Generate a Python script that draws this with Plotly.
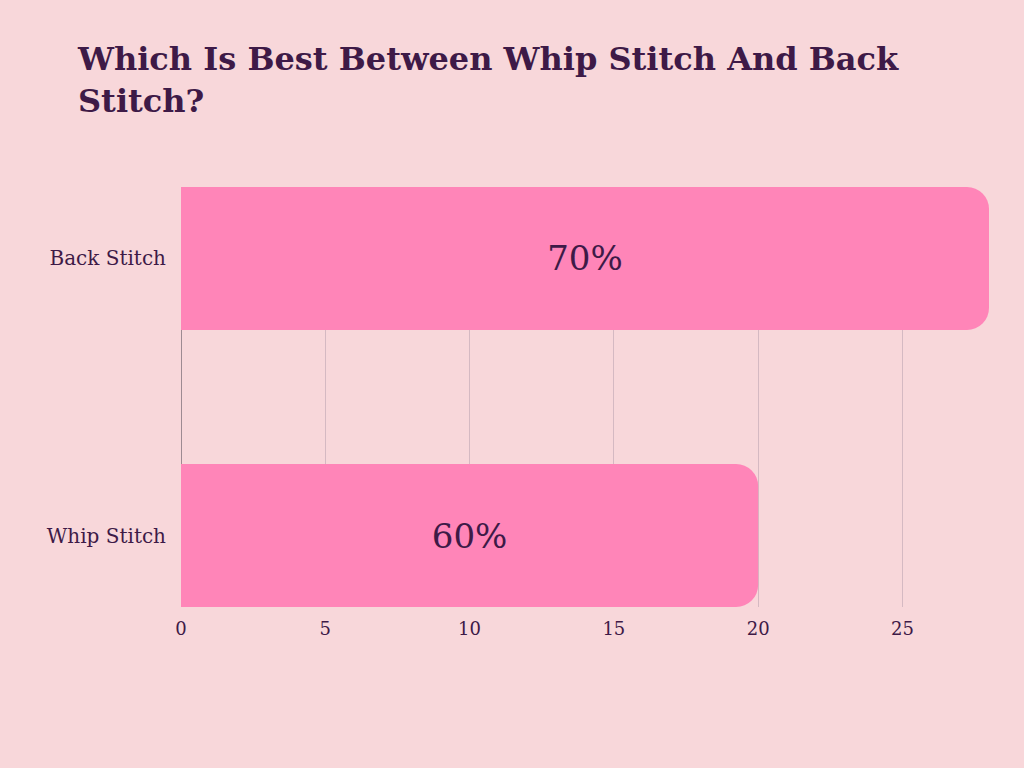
import plotly.graph_objects as go

categories = ["Whip Stitch", "Back Stitch"]
values = [20, 28]
labels = ["60%", "70%"]
x_ticks = [0, 5, 10, 15, 20, 25]

BG = "#F8D7DA"
BAR = "#FF85B8"
TXT = "#3E1A47"

fig = go.Figure(
    go.Bar(
        y=categories,
        x=values,
        orientation="h",
        marker=dict(color=BAR, line=dict(width=0)),
        width=0.516,
        text=labels,
        textposition="inside",
        insidetextanchor="middle",
        textfont=dict(family="DejaVu Serif", size=34, color=TXT),
        hoverinfo="skip",
    )
)

fig.update_layout(
    width=1024,
    height=768,
    paper_bgcolor=BG,
    plot_bgcolor=BG,
    barcornerradius=22,
    margin=dict(l=181, r=35, t=187, b=161),
    showlegend=False,
    title=dict(
        text="<b>Which Is Best Between Whip Stitch And Back<br>Stitch?</b>",
        x=78 / 1024,
        xanchor="left",
        y=1 - 70 / 768,
        yanchor="top",
        font=dict(family="DejaVu Serif", size=32, color=TXT),
    ),
    font=dict(family="DejaVu Serif", color=TXT),
)

fig.update_xaxes(
    range=[0, 28],
    tickvals=x_ticks,
    showgrid=True,
    gridcolor="#D5B9C2",
    gridwidth=1,
    zeroline=True,
    zerolinecolor="#9E8A92",
    zerolinewidth=1,
    showline=False,
    tickfont=dict(family="DejaVu Serif", size=18, color=TXT),
    ticks="",
    ticklabelstandoff=9,
)

fig.update_yaxes(
    range=[-0.258, 1.258],
    showgrid=False,
    zeroline=False,
    showline=False,
    ticks="",
    tickfont=dict(family="DejaVu Serif", size=20, color=TXT),
    ticklabelstandoff=14,
)

fig.write_html(
    "out.html",
    config={"displayModeBar": False},
    post_script="document.body.style.margin='0';document.body.style.overflow='hidden';",
)
